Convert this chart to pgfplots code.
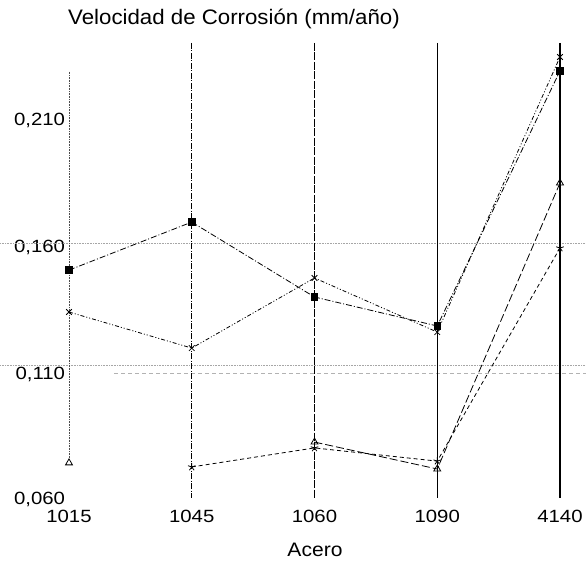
\documentclass[border=0pt]{standalone}
\usepackage{fontspec}
\setmainfont{Liberation Sans}
\newfontfamily\ticklab[FakeStretch=1.15]{Liberation Sans}
\newfontfamily\titlefont[FakeStretch=1.06]{Liberation Sans}
\newfontfamily\labfont[FakeStretch=1.08]{Liberation Sans}
\usepackage{pgfplots}
\pgfplotsset{compat=1.18}
\begin{document}
\begin{tikzpicture}
\useasboundingbox (-69pt,-59pt) rectangle (517pt,501pt);
\begin{axis}[
  at={(0pt,0pt)}, anchor=south west,
  scale only axis, width=491pt, height=458pt,
  xmin=0, xmax=4, ymin=0.060, ymax=0.2403,
  axis line style={draw=none},
  major tick length=0pt,
  xtick={0,1,2,3,4},
  xticklabels={1015,1045,1060,1090,4140},
  ytick={0.0605,0.110,0.160,0.210},
  yticklabels={{0,060},{0,110},{0,160},{0,210}},
  tick label style={font=\ticklab\fontsize{17.7}{20}\selectfont},
  xticklabel style={yshift=-5.5pt},
  yticklabel style={xshift=-0.5pt},
  clip=false,
]
% reference lines
\addplot[gray!70, densely dotted, line width=0.6pt] coordinates {(-0.56,0.1616)(4.22,0.1616)};
\addplot[gray!70, densely dotted, line width=0.6pt] coordinates {(-0.56,0.1135)(4.22,0.1135)};
\addplot[gray!60, dash pattern=on 4pt off 3pt, line width=0.5pt] coordinates {(0.37,0.1104)(4.22,0.1104)};
% vertical lines at each steel
\addplot[black!70, densely dotted, line width=0.6pt] coordinates {(0,0.229)(0,0.077)};
\addplot[black, dash pattern=on 6pt off 1.5pt on 1pt off 1.5pt, line width=0.8pt] coordinates {(1,0.2403)(1,0.0610)};
\addplot[black, dash pattern=on 8pt off 1.5pt, line width=0.8pt] coordinates {(2,0.2403)(2,0.0610)};
\addplot[black, line width=0.9pt] coordinates {(3,0.2403)(3,0.0610)};
\addplot[black, line width=1.1pt] coordinates {(4,0.2403)(4,0.0610)};
% series: filled square
\addplot[black, line width=0.8pt, dash pattern=on 6pt off 2pt on 1pt off 2pt,
  mark=square*, mark size=3.3pt, mark options={solid}] coordinates {
  (0,0.1509)(1,0.1698)(2,0.1403)(3,0.1289)(4,0.2293)};
% series: cross
\addplot[black, line width=0.8pt, dash pattern=on 4pt off 2pt on 1pt off 2pt on 1pt off 2pt,
  mark=x, mark size=4pt, mark options={solid}] coordinates {
  (0,0.1344)(1,0.1202)(2,0.1478)(3,0.1265)(4,0.2348)};
% series: open triangle
\addplot[black, line width=0.8pt, dash pattern=on 8pt off 3pt,
  mark=triangle, mark size=4pt, mark options={solid}, unbounded coords=jump] coordinates {
  (0,0.0750)(1,nan)(2,0.0832)(3,0.0726)(4,0.1852)};
% series: star
\addplot[black, line width=0.8pt, dash pattern=on 4pt off 3pt,
  mark=star, mark size=4pt, mark options={solid}] coordinates {
  (1,0.0734)(2,0.0809)(3,0.0757)(4,0.1596)};
\end{axis}
\node[anchor=base west, inner sep=0pt, font=\titlefont\fontsize{21}{24}\selectfont] at (-1pt,476pt) {Velocidad de Corrosión (mm/año)};
\node[anchor=base, inner sep=0pt, font=\labfont\fontsize{19.5}{22}\selectfont] at (246pt,-55.5pt) {Acero};
\end{tikzpicture}
\end{document}
